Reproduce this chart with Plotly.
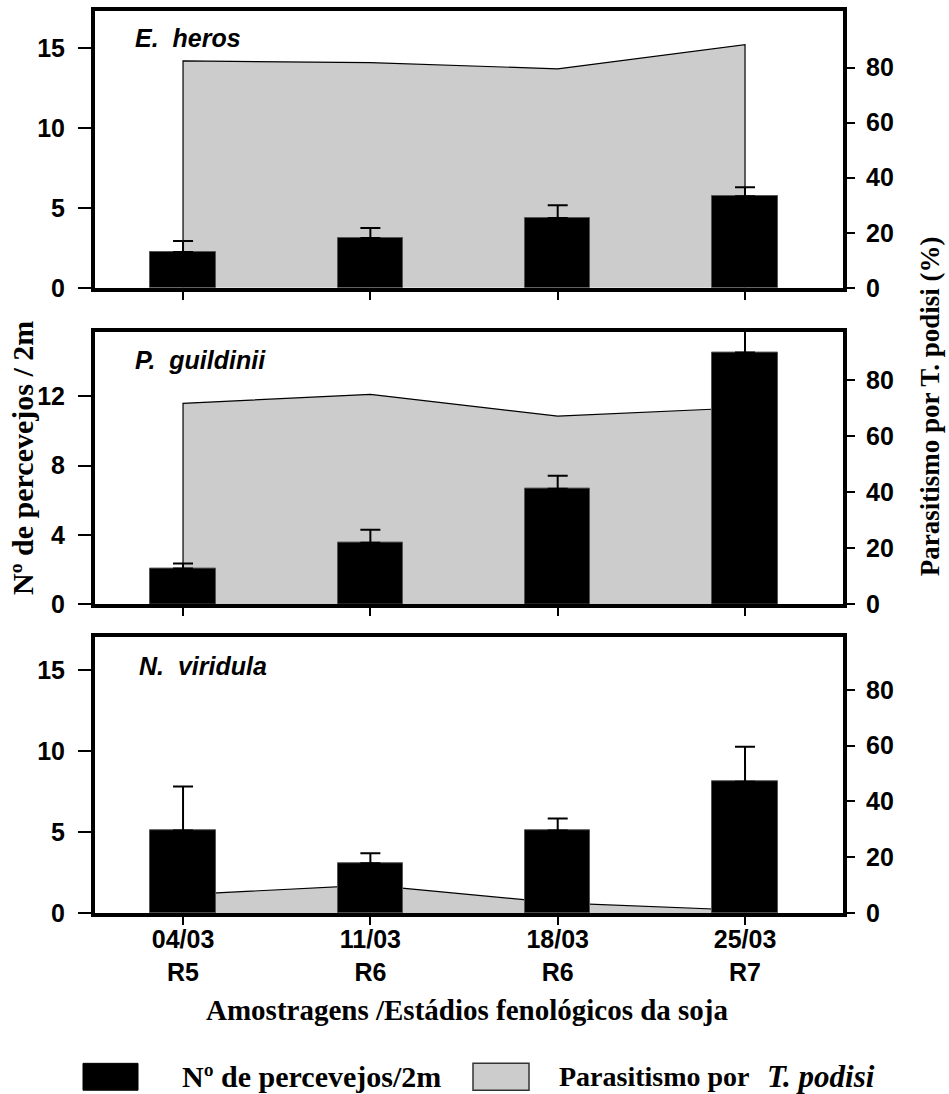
import plotly.graph_objects as go

# ---------------- data ----------------
dates = ["04/03", "11/03", "18/03", "25/03"]
stages = ["R5", "R6", "R6", "R7"]
categories = [f"{d}<br>{s}" for d, s in zip(dates, stages)]

species = ["E.\u00a0\u00a0heros", "P.\u00a0\u00a0guildinii", "N.\u00a0\u00a0viridula"]

# mean number of stink bugs / 2m (left axis)
heros_bugs = [2.24, 3.11, 4.36, 5.72]
heros_err = [0.68, 0.62, 0.80, 0.56]
guildinii_bugs = [2.07, 3.56, 6.66, 14.52]
guildinii_err = [0.28, 0.75, 0.75, 1.25]
viridula_bugs = [5.10, 3.07, 5.10, 8.11]
viridula_err = [2.71, 0.62, 0.74, 2.15]

# parasitism by T. podisi (%) (right axis)
heros_parasit = [82.5, 81.8, 79.6, 88.4]
guildinii_parasit = [71.8, 75.0, 67.2, 70.2]
viridula_parasit = [6.6, 10.0, 3.6, 1.0]

left_ticks = [[0, 5, 10, 15], [0, 4, 8, 12], [0, 5, 10, 15]]
right_ticks = [0, 20, 40, 60, 80]

bugs = [heros_bugs, guildinii_bugs, viridula_bugs]
errs = [heros_err, guildinii_err, viridula_err]
parasit = [heros_parasit, guildinii_parasit, viridula_parasit]

# ---------------- layout geometry ----------------
W, H = 949, 1094
ML, MR, MT, MB = 95, 106, 7, 181
PW = W - ML - MR
PH = H - MT - MB


def py(pix):
    return (H - MB - pix) / PH


def px(pix):
    return (pix - ML) / PW


domains = [[py(285), 1.0], [py(603), py(329)], [0.0, py(636)]]
left_ranges = [[0, 17.3], [0, 15.73], [0, 17.03]]
right_ranges = [[0, 100.6], [0, 97.4], [0, 98.9]]
x_range = [-0.47, 3.523]

tickfont = dict(family="Liberation Sans, Arial", size=25, color="black", weight="bold")
serif = "Liberation Serif, Times New Roman"

fig = go.Figure()
layout = dict(
    width=W, height=H,
    margin=dict(l=ML, r=MR, t=MT, b=MB),
    plot_bgcolor="white", paper_bgcolor="white",
    showlegend=False,
    bargap=0,
)

for i in range(3):
    xa = "x" if i == 0 else f"x{i+1}"
    ya_r = "y" if i == 0 else f"y{2*i+1}"   # base axis: parasitism (right)
    ya_l = f"y{2*i+2}"                      # overlay axis: counts (left)

    xs = [categories[0]] + categories + [categories[-1]]
    ys = [0] + parasit[i] + [0]
    fig.add_trace(go.Scatter(
        x=xs, y=ys, xaxis=xa, yaxis=ya_r,
        mode="lines", fill="toself", fillcolor="#cccccc",
        line=dict(color="black", width=1.2),
        hoverinfo="skip",
    ))
    fig.add_trace(go.Bar(
        x=categories, y=bugs[i], xaxis=xa, yaxis=ya_l,
        width=0.35,
        marker=dict(color="black", line=dict(color="#555555", width=1)),
        error_y=dict(type="data", array=errs[i], arrayminus=[0] * 4,
                     symmetric=False, color="black", thickness=2, width=10),
    ))

    xkey = "xaxis" if i == 0 else f"xaxis{i+1}"
    yrkey = "yaxis" if i == 0 else f"yaxis{2*i+1}"
    ylkey = f"yaxis{2*i+2}"

    layout[xkey] = dict(
        domain=[0, 1], range=x_range, type="category",
        anchor=ya_r, showline=True, mirror=True, linewidth=4, linecolor="black",
        ticks="outside", ticklen=8, tickwidth=2, tickcolor="black",
        showticklabels=(i == 2), tickfont=tickfont, showgrid=False,
        ticklabelstandoff=-7,
        zeroline=False, categoryorder="array", categoryarray=categories,
    )
    layout[yrkey] = dict(
        domain=domains[i], range=right_ranges[i], side="right",
        anchor=xa, showline=True, linewidth=4, linecolor="black",
        ticks="outside", ticklen=8, tickwidth=2, tickcolor="black",
        ticklabelstandoff=6,
        tickvals=right_ticks, tickfont=tickfont, showgrid=False, zeroline=False,
    )
    layout[ylkey] = dict(
        range=left_ranges[i], side="left", overlaying=ya_r,
        anchor=xa, showline=True, linewidth=4, linecolor="black",
        ticks="outside", ticklen=13, tickwidth=2, tickcolor="black",
        ticklabelstandoff=8,
        tickvals=left_ticks[i], tickfont=tickfont, showgrid=False, zeroline=False,
    )

fig.update_layout(**layout)

annotations = []
# species labels
for name, (lx, ly) in zip(species, [(133, 34), (133, 358), (137, 665)]):
    annotations.append(dict(
        text=name, xref="paper", yref="paper", x=px(lx), y=py(ly),
        xanchor="left", yanchor="middle", showarrow=False,
        font=dict(family="Liberation Sans, Arial", size=25, color="black",
                  weight="bold", style="italic"),
    ))

# axis titles
annotations.append(dict(
    text="Nº de percevejos / 2m", xref="paper", yref="paper",
    x=px(22), y=py(456), textangle=-90, showarrow=False,
    xanchor="center", yanchor="middle",
    font=dict(family=serif, size=30, color="black", weight="bold"),
))
annotations.append(dict(
    text="Parasitismo por T. podisi (%)", xref="paper", yref="paper",
    x=px(930), y=py(404), textangle=-90, showarrow=False,
    xanchor="center", yanchor="middle",
    font=dict(family=serif, size=27, color="black", weight="bold"),
))
annotations.append(dict(
    text="Amostragens /Estádios fenológicos da soja", xref="paper", yref="paper",
    x=px(467), y=py(1010), showarrow=False,
    xanchor="center", yanchor="middle",
    font=dict(family=serif, size=29, color="black", weight="bold"),
))

# legend
annotations.append(dict(
    text="Nº de percevejos/2m", xref="paper", yref="paper",
    x=px(180), y=py(1077), showarrow=False, xanchor="left", yanchor="middle",
    font=dict(family=serif, size=30, color="black", weight="bold"),
))
annotations.append(dict(
    text="Parasitismo por", xref="paper", yref="paper",
    x=px(557), y=py(1077), showarrow=False, xanchor="left", yanchor="middle",
    font=dict(family=serif, size=28, color="black", weight="bold"),
))
annotations.append(dict(
    text="<i>T. podisi</i>", xref="paper", yref="paper",
    x=px(765), y=py(1077), showarrow=False, xanchor="left", yanchor="middle",
    font=dict(family=serif, size=31, color="black", weight="bold"),
))

shapes = [
    dict(type="rect", xref="paper", yref="paper",
         x0=px(83), x1=px(138), y0=py(1091), y1=py(1064),
         fillcolor="black", line=dict(color="black", width=1)),
    dict(type="rect", xref="paper", yref="paper",
         x0=px(473), x1=px(529), y0=py(1091), y1=py(1064),
         fillcolor="#cccccc", line=dict(color="#333333", width=1.5)),
]

fig.update_layout(annotations=annotations, shapes=shapes)

fig.write_html(
    "out.html",
    config={"displayModeBar": False},
    post_script="document.body.style.margin='0';document.body.style.overflow='hidden';",
)
